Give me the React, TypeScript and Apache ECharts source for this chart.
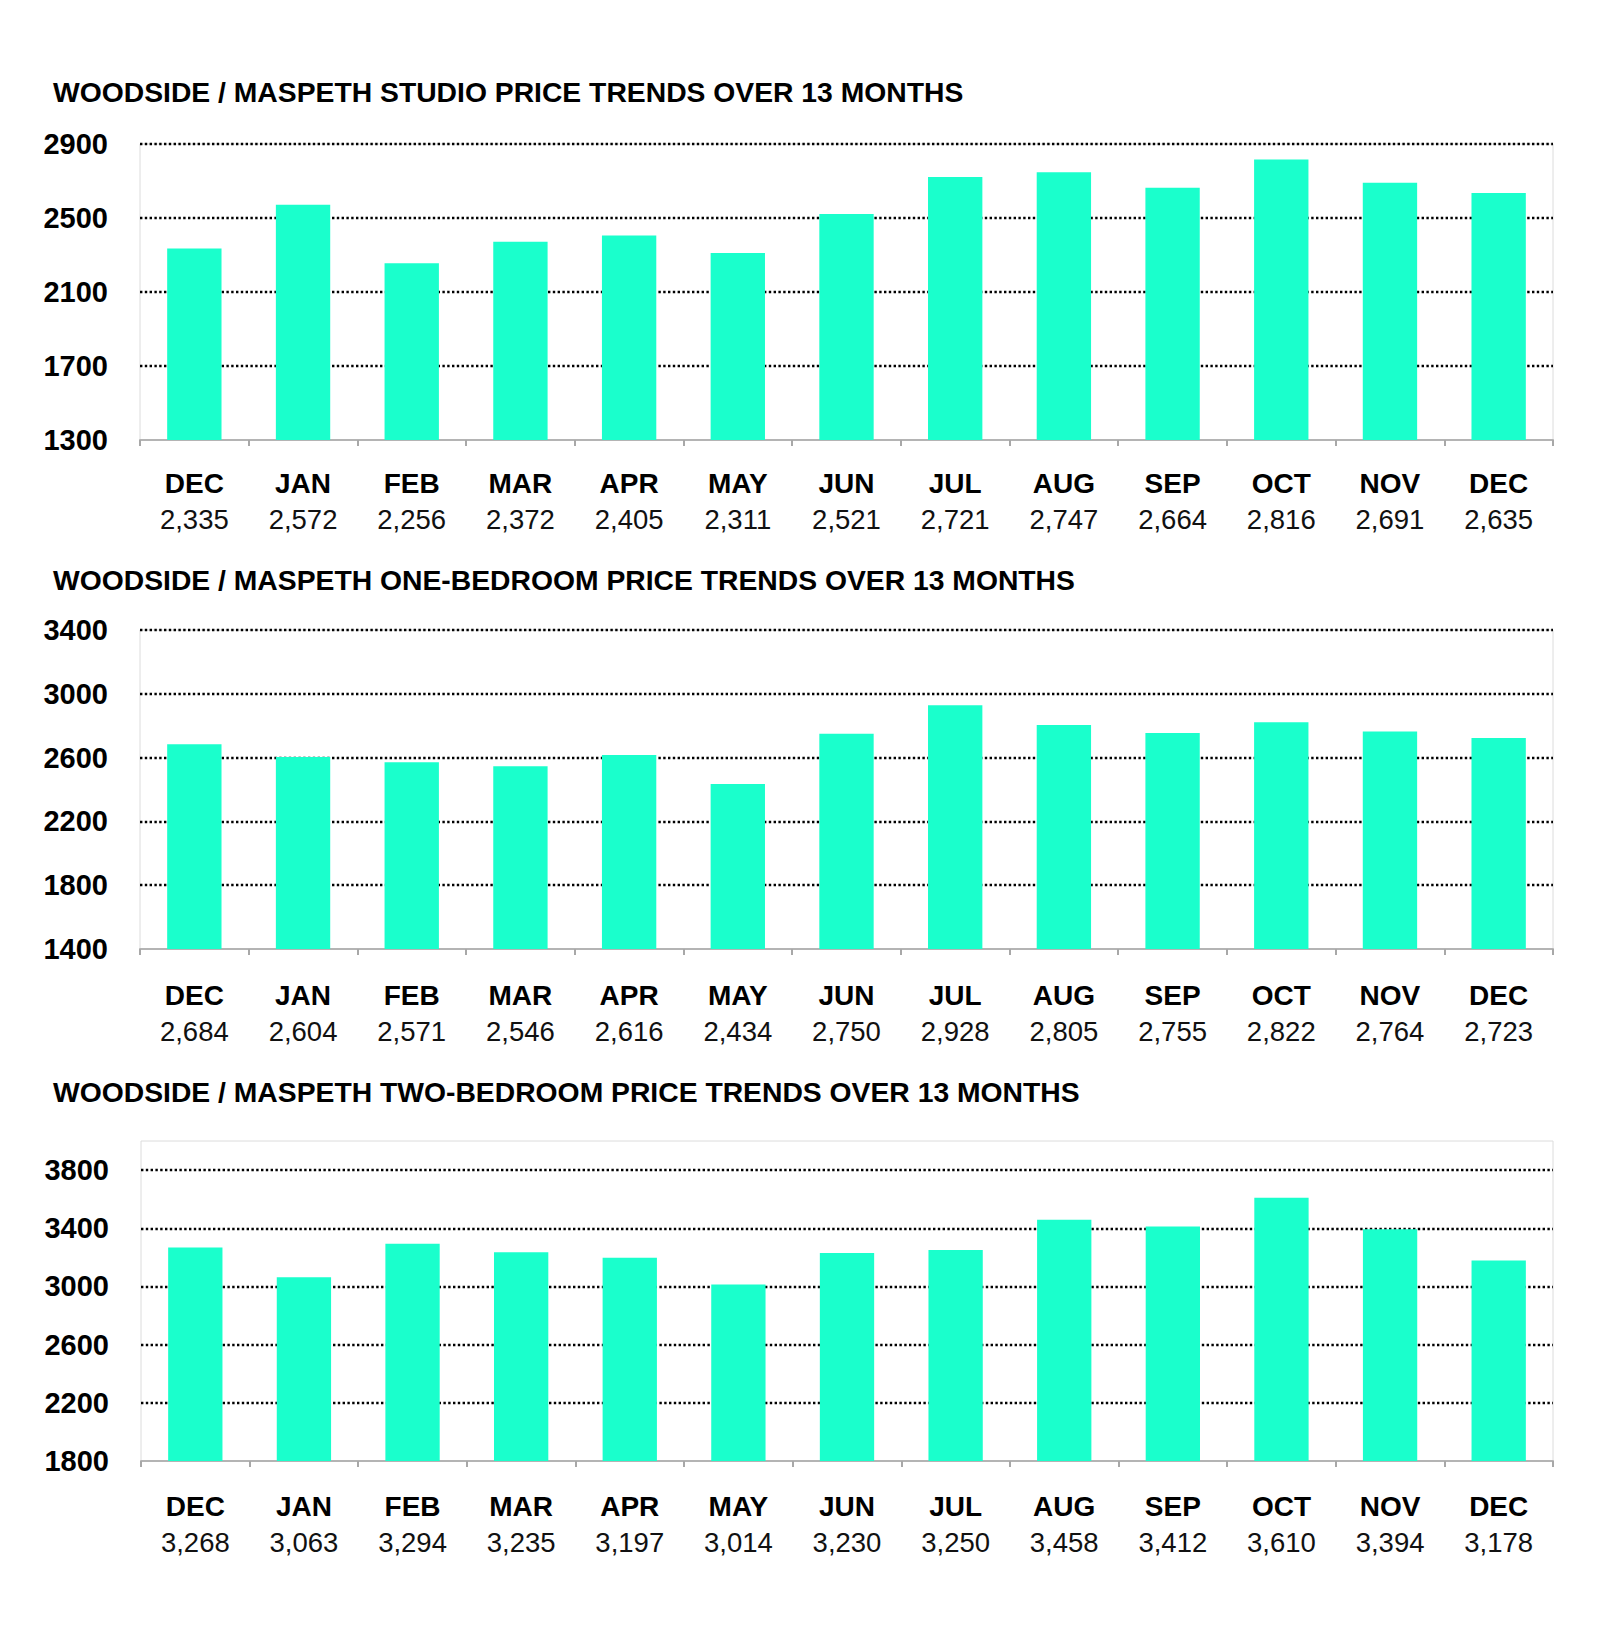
import React, { useEffect, useRef } from "react";
import * as echarts from "echarts";

const months = ["DEC", "JAN", "FEB", "MAR", "APR", "MAY", "JUN", "JUL", "AUG", "SEP", "OCT", "NOV", "DEC"];
const studioValues = [2335, 2572, 2256, 2372, 2405, 2311, 2521, 2721, 2747, 2664, 2816, 2691, 2635];
const oneBedValues = [2684, 2604, 2571, 2546, 2616, 2434, 2750, 2928, 2805, 2755, 2822, 2764, 2723];
const twoBedValues = [3268, 3063, 3294, 3235, 3197, 3014, 3230, 3250, 3458, 3412, 3610, 3394, 3178];

const titles = [
  "WOODSIDE / MASPETH STUDIO PRICE TRENDS OVER 13 MONTHS",
  "WOODSIDE / MASPETH ONE-BEDROOM PRICE TRENDS OVER 13 MONTHS",
  "WOODSIDE / MASPETH TWO-BEDROOM PRICE TRENDS OVER 13 MONTHS",
];
const yMins = [1300, 1400, 1800];
const yMaxs = [2900, 3400, 4000];
const yInterval = 400;

const BAR = "#1AFFCC";
const FONT = "'Liberation Sans', Arial, sans-serif";

const fmt = (n: number) => n.toLocaleString("en-US");

export default function App() {
  const ref = useRef<HTMLDivElement>(null);
  useEffect(() => {
    document.body.style.margin = "0";
    if (!ref.current) return;
    const chart = echarts.init(ref.current, undefined, { renderer: "svg" });
    const seriesData = [studioValues, oneBedValues, twoBedValues];
    const grids = [
      { left: 140, top: 144, width: 1413, height: 296 },
      { left: 140, top: 630, width: 1413, height: 319 },
      { left: 141, top: 1141, width: 1412, height: 320 },
    ];
    const titleTops = [78, 566, 1078];
    const labelMargins = [25, 28, 27];

    const option: any = {
      animation: false,
      backgroundColor: "#ffffff",
      title: titles.map((t, i) => ({
        text: t,
        left: 53,
        top: titleTops[i],
        padding: 0,
        textStyle: { fontFamily: FONT, fontWeight: "bold", fontSize: 28.3, color: "#000" },
      })),
      grid: grids.map((g) => ({
        ...g,
        show: true,
        borderColor: "#dcdcdc",
        borderWidth: 1,
        backgroundColor: "transparent",
      })),
      xAxis: seriesData.map((vals, i) => ({
        type: "category",
        gridIndex: i,
        data: months,
        axisLine: { show: true, lineStyle: { color: "#b4b4b4", width: 2 } },
        axisTick: { show: true, length: 6, lineStyle: { color: "#a8a8a8", width: 2 } },
        axisLabel: {
          margin: labelMargins[i],
          interval: 0,
          formatter: (value: string, idx: number) => `{m|${value}}\n{v|${fmt(vals[idx])}}`,
          rich: {
            m: { fontFamily: FONT, fontWeight: "bold", fontSize: 28, color: "#000", lineHeight: 36 },
            v: { fontFamily: FONT, fontSize: 27.5, color: "#111", lineHeight: 36 },
          },
        },
      })),
      yAxis: seriesData.map((_, i) => ({
        type: "value",
        gridIndex: i,
        min: yMins[i],
        max: yMaxs[i],
        interval: yInterval,
        axisLine: { show: false },
        axisTick: { show: false },
        axisLabel: {
          margin: 32,
          showMaxLabel: i !== 2,
          formatter: (v: number) => String(v),
          fontFamily: FONT,
          fontWeight: "bold",
          fontSize: 29,
          color: "#000",
        },
        splitLine: {
          show: true,
          showMinLine: false,
          showMaxLine: i !== 2,
          lineStyle: { color: "#000", width: 2.4, type: [2.4, 2.4] },
        },
      })),
      series: seriesData.map((vals, i) => ({
        type: "bar",
        xAxisIndex: i,
        yAxisIndex: i,
        data: vals,
        barWidth: "50%",
        itemStyle: { color: BAR },
      })),
    };
    chart.setOption(option);
    return () => chart.dispose();
  }, []);
  return <div ref={ref} style={{ width: 1600, height: 1641 }} />;
}
